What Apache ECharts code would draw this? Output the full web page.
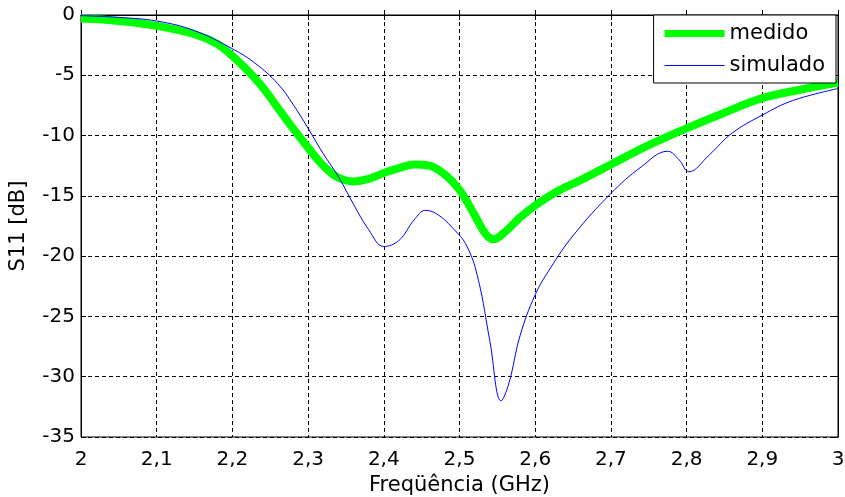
<!DOCTYPE html>
<html>
<head>
    <meta charset="utf-8">
    <script type="text/javascript" src="https://cdn.jsdelivr.net/npm/echarts@6/dist/echarts.min.js"></script>
    <title>S11</title>
    <style>
        body { margin: 0; background: #fff; }
    </style>
</head>
<body>
<div id="main" style="width: 845px;height:497px;"></div>
<script type="text/javascript">

    // medido (measured)
    var freqMedido = [2.00, 2.05, 2.10, 2.15, 2.18, 2.20, 2.22, 2.24, 2.26, 2.28, 2.30, 2.32, 2.34, 2.36, 2.38,
        2.40, 2.42, 2.44, 2.46, 2.48, 2.50, 2.52, 2.535, 2.545, 2.56, 2.58, 2.60, 2.63, 2.66, 2.70,
        2.75, 2.80, 2.85, 2.90, 2.95, 3.00];
    var s11Medido = [-0.3, -0.5, -0.9, -1.6, -2.4, -3.4, -4.6, -6.0, -7.7, -9.4, -11.0, -12.5, -13.5, -13.8, -13.6,
        -13.1, -12.7, -12.4, -12.5, -13.2, -14.5, -16.6, -18.2, -18.6, -18.0, -16.8, -15.8, -14.6, -13.7, -12.4,
        -10.8, -9.4, -8.1, -6.9, -6.2, -5.6];

    // simulado (simulated)
    var freqSimulado = [2.00, 2.05, 2.10, 2.15, 2.20, 2.23, 2.26, 2.28, 2.30, 2.32, 2.34, 2.36, 2.38, 2.40, 2.42,
        2.44, 2.455, 2.47, 2.49, 2.51, 2.525, 2.54, 2.555, 2.565, 2.58, 2.60, 2.62, 2.65, 2.70, 2.74,
        2.775, 2.79, 2.803, 2.83, 2.86, 2.90, 2.94, 3.00];
    var s11Simulado = [-0.05, -0.2, -0.5, -1.3, -2.8, -4.0, -5.7, -7.4, -9.4, -11.5, -13.4, -15.7, -17.8, -19.2, -18.7,
        -17.0, -16.2, -16.5, -17.6, -19.2, -22.0, -27.0, -32.0, -30.6, -26.6, -23.2, -21.0, -18.3, -14.8, -12.6,
        -11.3, -12.0, -13.0, -11.6, -9.8, -8.3, -7.1, -6.1];

    function pairs(xs, ys) {
        var out = [];
        for (var i = 0; i < xs.length; i++) {
            out.push([xs[i], ys[i]]);
        }
        return out;
    }

    var FONT = 'DejaVu Sans';
    var nameTxt = { color: '#000', fontFamily: FONT, fontSize: 21 };
    var dashed = { show: true, lineStyle: { color: '#000', type: [4, 3], width: 1 } };
    var blackTick = { show: true, inside: true, length: 5, lineStyle: { color: '#000' } };

    var myChart = echarts.init(document.getElementById('main'));

    var option = {
        animation: false,
        backgroundColor: '#fff',
        grid: {
            left: 81, right: 7, top: 15, bottom: 60,
            containLabel: false,
            outerBoundsMode: 'none',
            show: true, borderColor: '#000', borderWidth: 1, backgroundColor: '#fff'
        },
        legend: {
            right: 9, top: 15,
            orient: 'vertical',
            backgroundColor: '#fff',
            borderColor: '#000',
            borderWidth: 1,
            borderRadius: 0,
            padding: [8, 11, 7, 11],
            itemWidth: 60,
            itemHeight: 14,
            itemGap: 11,
            symbolKeepAspect: true,
            textStyle: { color: '#000', fontFamily: FONT, fontSize: 21 },
            data: [
                { name: 'medido', icon: 'path://M0,0H60V7H0Z' },
                { name: 'simulado', icon: 'path://M0,0H60V1H0Z' }
            ]
        },
        xAxis: [{
            type: 'value',
            min: 2, max: 3, interval: 0.1,
            name: 'Freqüência (GHz)',
            nameLocation: 'middle',
            nameGap: 29,
            nameTextStyle: nameTxt,
            axisLine: { lineStyle: { color: '#000' } },
            axisTick: blackTick,
            axisLabel: {
                color: '#000', fontFamily: FONT, fontSize: 20, margin: 13,
                formatter: function (v) { return String(Math.round(v * 10) / 10).replace('.', ','); }
            },
            splitLine: dashed
        }, {
            type: 'value', position: 'top',
            min: 2, max: 3, interval: 0.1,
            axisLine: { lineStyle: { color: '#000' } },
            axisTick: blackTick,
            axisLabel: { show: false },
            splitLine: { show: false }
        }],
        yAxis: [{
            type: 'value',
            min: -35, max: 0, interval: 5,
            name: 'S11 [dB]',
            nameLocation: 'middle',
            nameGap: 52,
            nameTextStyle: nameTxt,
            axisLine: { show: true, lineStyle: { color: '#000' } },
            axisTick: blackTick,
            axisLabel: { color: '#000', fontFamily: FONT, fontSize: 20, margin: 6 },
            splitLine: dashed
        }, {
            type: 'value', position: 'right',
            min: -35, max: 0, interval: 5,
            axisLine: { show: true, lineStyle: { color: '#000' } },
            axisTick: blackTick,
            axisLabel: { show: false },
            splitLine: { show: false }
        }],
        series: [{
            name: 'medido',
            type: 'line',
            symbol: 'none',
            smooth: 0.4,
            color: '#00ff00',
            lineStyle: { color: '#00ff00', width: 8 },
            data: pairs(freqMedido, s11Medido)
        }, {
            name: 'simulado',
            type: 'line',
            symbol: 'none',
            smooth: 0.4,
            color: '#0000ff',
            lineStyle: { color: '#0000ff', width: 1 },
            data: pairs(freqSimulado, s11Simulado)
        }]
    };
    myChart.setOption(option);

</script>
</body>
</html>
